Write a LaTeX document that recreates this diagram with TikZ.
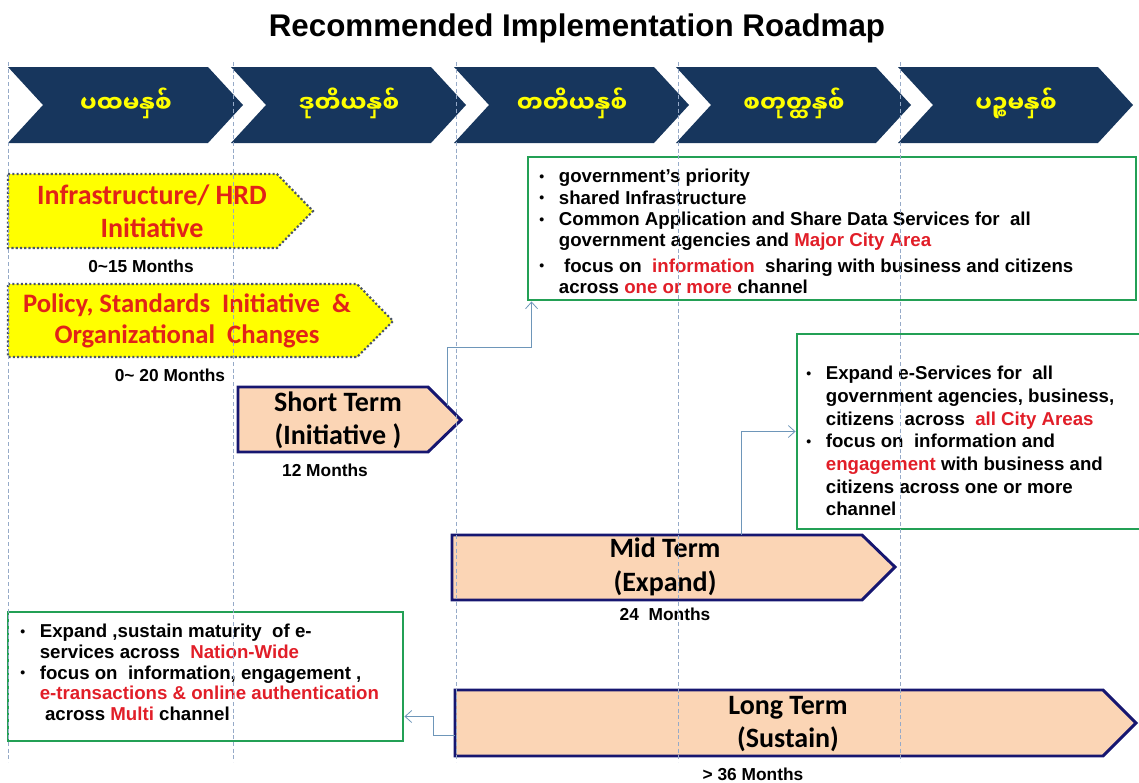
\documentclass[tikz,border=0pt]{standalone}
\usepackage{fontspec}
\setmainfont{Liberation Sans}
\newfontfamily\calibri{Carlito}
\newfontfamily\myanmarfont[Script=Myanmar]{Noto Sans Myanmar UI}
\usepackage{xcolor}
\usetikzlibrary{arrows.meta,positioning,fit,calc}

\definecolor{navy}{RGB}{23,54,93}
\definecolor{yearyellow}{RGB}{255,255,0}
\definecolor{dotgray}{RGB}{75,85,105}
\definecolor{initred}{RGB}{225,35,25}
\definecolor{peach}{RGB}{251,213,181}
\definecolor{termblue}{RGB}{22,22,112}
\definecolor{plangreen}{RGB}{35,160,85}
\definecolor{hlred}{RGB}{225,30,40}
\definecolor{linkblue}{RGB}{110,150,185}
\definecolor{guideblue}{RGB}{150,170,200}

\newcommand{\redtxt}[1]{\textcolor{hlred}{#1}}
\newcommand{\bul}{\makebox[1.05em][l]{\raisebox{0.12ex}{\scalebox{0.75}{\textbullet}}}}
\newcommand{\ind}{\hspace*{1.05em}}

\tikzset{
  chevron/.style={fill=navy, draw=none},
  yeartext/.style={text=yearyellow, font=\myanmarfont\bfseries\fontsize{17.5pt}{20pt}\selectfont},
  initbox/.style={fill=yearyellow, draw=dotgray, line width=1.6pt, dash pattern=on 1.6pt off 1.6pt},
  inittext/.style={text=initred, font=\calibri\bfseries\fontsize{21pt}{25pt}\selectfont, align=center},
  termbox/.style={fill=peach, draw=termblue, line width=2.2pt, line join=miter},
  termtext/.style={font=\calibri\bfseries\fontsize{21pt}{25pt}\selectfont, align=center},
  months/.style={font=\bfseries\fontsize{13pt}{15pt}\selectfont},
  planbox/.style={draw=plangreen, line width=2.2pt, inner sep=0pt},
  plantext/.style={font=\bfseries\fontsize{14pt}{16pt}\selectfont, align=left, anchor=north west, inner sep=0pt},
  linkline/.style={draw=linkblue, line width=0.6pt, -{Straight Barb[length=5pt,width=9pt]}},
  guide/.style={draw=guideblue, line width=0.5pt, dash pattern=on 3pt off 2pt}
}

\begin{document}
\begin{tikzpicture}[x=0.75pt, y=-0.75pt]
\useasboundingbox (0,0) rectangle (1139,782);

% Title
\node[font=\bfseries\fontsize{23.5pt}{27pt}\selectfont] (title) at (577,28) {Recommended Implementation Roadmap};

% Year chevrons
\foreach \x/\yr [count=\i] in {8/ပထမနှစ်, 231/ဒုတိယနှစ်, 454/တတိယနှစ်, 676/စတုတ္ထနှစ်, 898/ပဉ္စမနှစ်} {
    \fill[chevron] (\x,67) -- (\x+200,67) -- (\x+235,105) -- (\x+200,143) -- (\x,143) -- (\x+35,105) -- cycle;
    \node[yeartext] (yr\i) at (\x+118,103) {\yr};
}

% Initiatives
\draw[initbox] (8,174) -- (277,174) -- (313,211) -- (277,248) -- (8,248) -- cycle;
\node[inittext] (infra) at (152,211) {Infrastructure/ HRD\\Initiative};
\node[months] (infram) at (141,266) {0{\char`~}15 Months};

\draw[initbox] (8,284) -- (357,284) -- (393,321) -- (357,357) -- (8,357) -- cycle;
\node[inittext, font=\calibri\bfseries\fontsize{20pt}{23pt}\selectfont] (policy) at (187,321) {Policy, Standards\ \ Initiative\ \ \&\\Organizational\ \ Changes};
\node[months] (policym) at (170,375) {0{\char`~} 20 Months};

% Terms
\draw[termbox] (238,387) -- (428,387) -- (461,420) -- (428,452) -- (238,452) -- cycle;
\node[termtext] (short) at (338,420) {Short Term\\(Initiative )};
\node[months] (shortm) at (325,470) {12 Months};
\coordinate (shortout) at (447,406);

\draw[termbox] (452,535) -- (862,535) -- (895,567) -- (862,600) -- (452,600) -- cycle;
\node[termtext] (mid) at (665,567) {Mid Term\\(Expand)};
\node[months] (midm) at (665,614) {24\ \ Months};
\coordinate (midout) at (741,535);

\draw[termbox] (455,690) -- (1103,690) -- (1136,723) -- (1103,756) -- (455,756) -- cycle;
\node[termtext] (long) at (788,724) {Long Term\\(Sustain)};
\node[months] (longm) at (753,774) {> 36 Months};
\coordinate (longout) at (455,735);

% Plans
\node[planbox, fit={(528,157) (1136,300)}] (plan1) {};
\node[plantext] (plan1txt) at (539,169) {%
\bul government’s priority\\
\bul shared Infrastructure\\
\bul Common Application and Share Data Services for\ \ all\\
\ind government agencies and \redtxt{Major City Area}\\[3pt]
\bul\ focus on\ \ \redtxt{information}\ \ sharing with business and citizens\\
\ind across \redtxt{one or more} channel};

\node[planbox, fit={(797,334) (1141,529)}] (plan2) {};
\node[plantext, font=\bfseries\fontsize{14pt}{17pt}\selectfont] (plan2txt) at (806,366) {%
\bul Expand e-Services for\ \ all\\
\ind government agencies, business,\\
\ind citizens\ \ across\ \ \redtxt{all City Areas}\\
\bul focus on\ \ information and\\
\ind \redtxt{engagement} with business and\\
\ind citizens across one or more\\
\ind channel};

\node[planbox, fit={(8,612) (403,741)}] (plan3) {};
\node[plantext, font=\bfseries\fontsize{14pt}{15.5pt}\selectfont] (plan3txt) at (20,624) {%
\bul Expand ,sustain maturity\ \ of e-\\
\ind services across\ \ \redtxt{Nation-Wide}\\
\bul focus on\ \ information, engagement ,\\
\ind \redtxt{e-transactions \& online authentication}\\
\ind\ across \redtxt{Multi} channel};

% Connectors
\draw[linkline] (shortout) |- ($(plan1.south west)+(5,46)$) -- ($(plan1.south west)+(5,0)$);
\draw[linkline] (midout) |- (plan2.west);
\draw[linkline] (longout) -- ++(-22,0) |- ($(plan3.east)+(0,40)$);

% Year guides
\foreach \x in {8,233,456,678,900} {
    \draw[guide] (\x,62) -- (\x,762);
}

\end{tikzpicture}
\end{document}
